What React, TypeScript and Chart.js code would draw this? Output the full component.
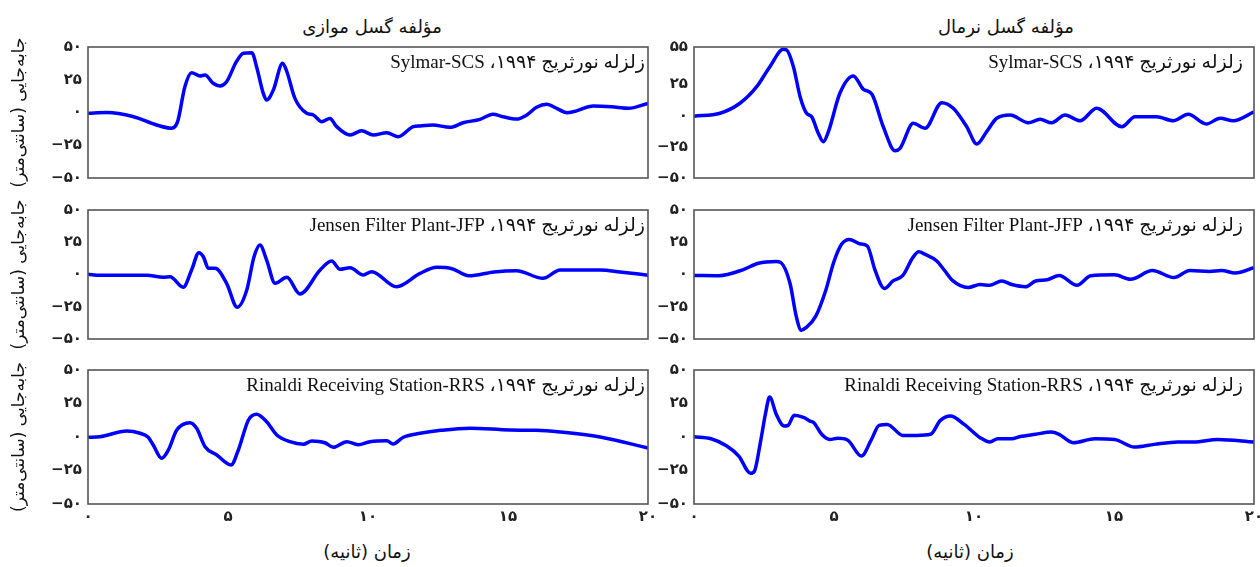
import React, { useEffect, useRef } from 'react';
import { Chart, registerables } from 'chart.js';
Chart.register(...registerables);

const xTicks = [0, 5, 10, 15, 20];
const yTicks = [-50, -25, 0, 25, 50];
const yTicksTopRight = [-50, -25, 0, 25, 55];

const columnTitles = ['مؤلفه گسل موازی', 'مؤلفه گسل نرمال'];
const stationLabels = [
  'زلزله نورثریج ۱۹۹۴، Sylmar-SCS',
  'زلزله نورثریج ۱۹۹۴، Jensen Filter Plant-JFP',
  'زلزله نورثریج ۱۹۹۴، Rinaldi Receiving Station-RRS',
];
const yTitle = 'جابه‌جایی (سانتی‌متر)';
const xTitle = 'زمان (ثانیه)';

// Sylmar-SCS, fault-parallel
const sylmarParT = [0, 0.67, 1.6, 2.45, 2.99, 3.2, 3.46, 3.7, 4.0, 4.18, 4.47, 4.71, 4.95, 5.3, 5.55, 5.85, 6.02, 6.26, 6.38, 6.62, 6.95, 7.1, 7.39, 7.81, 8.05, 8.35, 8.64, 8.88, 9.36, 9.77, 10.19, 10.67, 11.08, 11.62, 11.86, 12.3, 12.93, 13.4, 14.0, 14.46, 14.82, 15.31, 15.67, 16.02, 16.38, 16.74, 17.1, 17.33, 18.05, 18.7, 19.3, 20];
const sylmarParD = [-0.6, 0, -3, -9.5, -12, -7, 19.7, 30.4, 27.9, 28.6, 22.3, 20.2, 23.5, 38.8, 45.2, 45.7, 35, 14.6, 9.5, 17.2, 37.6, 31.3, 10.8, -0.6, -1.9, -7, -4.5, -10.8, -17.2, -13.9, -17.2, -15.4, -18.5, -10.8, -10.3, -9.5, -11.3, -7.8, -5.2, -1.4, -3.2, -5, -1.9, 4, 6.3, 3.2, -0.1, 0.6, 5, 4.4, 3.2, 7];

// Sylmar-SCS, fault-normal
const sylmarNorT = [0, 0.93, 1.64, 2.24, 2.71, 3.19, 3.31, 3.55, 3.79, 4.02, 4.2, 4.44, 4.62, 4.8, 5.21, 5.69, 6.05, 6.35, 6.76, 7.18, 7.36, 7.83, 8.25, 8.85, 9.26, 9.74, 10.1, 10.45, 10.81, 11.29, 11.94, 12.36, 12.77, 13.25, 13.79, 14.38, 15.28, 15.75, 16.52, 17.12, 17.65, 18.3, 18.79, 19.26, 20];
const sylmarNorD = [-0.5, 1.9, 9.9, 23.2, 39.2, 53.1, 52.6, 39.2, 15.2, 1.9, -0.8, -14.2, -20.9, -12.9, 17.9, 31.8, 21.1, 17.3, -8.9, -28.1, -26.2, -6.2, -10.2, 10.4, 5.9, -8.9, -22.7, -12.9, -2.1, 0.5, -5.7, -3, -5.7, 0.5, -4.1, 5.9, -8.9, -0.9, -0.9, -4.1, 1, -6.7, -2.1, -4.1, 3.1];

// Jensen Filter Plant-JFP, fault-parallel
const jensenParT = [0, 0.43, 2.1, 2.69, 2.93, 3.4, 3.7, 3.96, 4.12, 4.3, 4.54, 4.95, 5.33, 5.67, 5.93, 6.14, 6.38, 6.68, 7.1, 7.57, 8.29, 8.7, 9.0, 9.36, 9.83, 10.13, 11.02, 11.86, 12.46, 13.0, 13.6, 14.5, 15.3, 16.25, 16.86, 18.3, 19.0, 20];
const jensenParD = [0.2, -0.6, -0.6, -2.2, -1.7, -9.9, 3.5, 16.9, 13.8, 4.8, 4.8, -6.8, -25.4, -12, 13.8, 22.9, 11.2, -6.8, -2.2, -15.1, 3.5, 10.5, 4, 5.3, -0.4, 2.2, -9.5, 0.9, 5.6, 4.5, -1, 2, 3, -3, 3.5, 3.5, 2, -0.5];

// Jensen Filter Plant-JFP, fault-normal
const jensenNorT = [0, 0.89, 1.74, 2.3, 2.94, 3.08, 3.43, 3.65, 3.83, 4.0, 4.35, 4.71, 4.99, 5.27, 5.55, 5.91, 6.19, 6.47, 6.8, 7.11, 7.46, 7.82, 8.03, 8.24, 8.66, 8.95, 9.23, 9.79, 10.22, 10.57, 10.99, 11.35, 11.84, 12.2, 12.62, 13.04, 13.68, 14.17, 15.02, 15.59, 16.37, 17.14, 17.71, 18.41, 18.84, 19.33, 20];
const jensenNorD = [-0.7, -0.9, 3.6, 8.7, 10, 9.5, -7, -32.3, -43.2, -41.2, -32.3, -12, 9.5, 23.4, 27.2, 23.9, 22.1, 3.1, -10.8, -5, -0.7, 13.3, 17.6, 15.8, 10.7, 3.1, -4.5, -10, -7.8, -8.3, -5, -7.8, -9.5, -5, -4, -0.7, -8.3, -0.9, -0.2, -3.7, 3.1, -2.4, 3.1, 2.4, 3.1, 1.1, 5.2];

// Rinaldi Receiving Station-RRS, fault-parallel
const rinaldiParT = [0, 0.43, 1.38, 1.86, 2.15, 2.33, 2.63, 2.87, 3.17, 3.64, 3.88, 4.18, 4.6, 5.11, 5.37, 5.73, 6.02, 6.38, 6.74, 7.21, 7.69, 7.99, 8.46, 8.76, 9.24, 9.65, 10.07, 10.67, 10.9, 11.26, 11.86, 12.6, 13.64, 15.07, 16.0, 16.86, 18.29, 20];
const rinaldiParD = [-0.2, 0.2, 4.5, 2.8, -0.2, -6, -15.9, -9.7, 5.2, 10.7, 6.5, -7.2, -13.4, -20.9, -9.7, 12.7, 16.9, 11.4, 1.5, -3.5, -5.4, -3, -4.3, -7.7, -3.5, -5.8, -3.5, -2.8, -5.2, -0.2, 2.8, 5, 6.6, 5.2, 5, 3.7, 0, -8.2];

// Rinaldi Receiving Station-RRS, fault-normal
const rinaldiNorT = [0, 0.61, 1.17, 1.6, 2.02, 2.16, 2.37, 2.56, 2.7, 2.94, 3.22, 3.36, 3.58, 3.93, 4.14, 4.28, 4.56, 4.85, 5.13, 5.48, 5.98, 6.33, 6.61, 6.9, 7.46, 7.96, 8.45, 8.8, 9.16, 9.65, 10.22, 10.57, 10.85, 11.35, 11.63, 12.2, 12.76, 13.04, 13.54, 14.32, 15.02, 15.73, 16.44, 17.28, 17.85, 18.7, 20];
const rinaldiNorD = [0.2, -1.3, -6.7, -14.2, -27.1, -25.4, -4.2, 18.2, 29.8, 16.9, 8.2, 8.7, 16.2, 14.4, 11.9, 10.7, 2, -1.8, -1, -2.2, -14.2, -2.2, 8.7, 9.4, 1.2, 1.2, 2, 12.4, 15.7, 9.4, -0.5, -3.7, -1.3, -1.3, 0.2, 2, 3.7, 2, -4.2, -1.3, -1.8, -7.5, -5.5, -3.7, -3.7, -1.8, -3.7];

const faDigits = '۰۱۲۳۴۵۶۷۸۹';
function toFa(v: number): string {
  const s = String(Math.abs(v)).replace(/\d/g, (d) => faDigits[Number(d)]);
  return v < 0 ? '−' + s : s;
}

const rowBox = [
  { top: 47, bottom: 178 },
  { top: 210, bottom: 339 },
  { top: 370, bottom: 504 },
];
const colBox = [
  { canvasLeft: 0, canvasWidth: 656, plotLeft: 88, plotRight: 648, labelGap: 3 },
  { canvasLeft: 650, canvasWidth: 610, plotLeft: 694, plotRight: 1254, labelGap: 11 },
];

type PanelProps = {
  row: number;
  col: number;
  times: number[];
  values: number[];
  ticks: number[];
  label: string;
};

function Panel({ row, col, times, values, ticks, label }: PanelProps) {
  const ref = useRef<HTMLCanvasElement | null>(null);
  const r = rowBox[row];
  const c = colBox[col];
  const padTop = 15;
  const bottomRow = row === 2;
  const padBottom = bottomRow ? 5 : 15;
  const xAxisH = bottomRow ? 30 : 0;
  const height = r.bottom - r.top + padTop + padBottom + xAxisH;
  const width = c.canvasWidth;
  const yAxisW = c.plotLeft - c.canvasLeft;
  const padRight = c.canvasLeft + c.canvasWidth - c.plotRight;

  useEffect(() => {
    if (!ref.current) return;
    const showYTitle = col === 0;
    const decor = {
      id: 'decor',
      afterDatasetsDraw(chart: any) {
        const { ctx, chartArea: a } = chart;
        ctx.save();
        ctx.strokeStyle = '#555555';
        ctx.lineWidth = 1.6;
        ctx.strokeRect(a.left, a.top, a.right - a.left, a.bottom - a.top);
        ctx.fillStyle = '#111111';
        ctx.font = "19px 'Liberation Serif', 'DejaVu Sans', serif";
        ctx.direction = 'rtl';
        ctx.textAlign = 'right';
        ctx.textBaseline = 'alphabetic';
        ctx.fillText(label, a.right - c.labelGap, a.top + 21);
        if (showYTitle) {
          ctx.translate(20, (a.top + a.bottom) / 2);
          ctx.rotate(-Math.PI / 2);
          ctx.textAlign = 'center';
          ctx.textBaseline = 'middle';
          ctx.font = "17px 'DejaVu Sans', sans-serif";
          ctx.fillText(yTitle, 0, 0);
        }
        ctx.restore();
      },
    };
    const chart = new Chart(ref.current, {
      type: 'line',
      data: {
        datasets: [
          {
            data: times.map((t, i) => ({ x: t, y: values[i] })),
            borderColor: '#0000ff',
            borderWidth: 3.5,
            pointRadius: 0,
            fill: false,
            cubicInterpolationMode: 'monotone',
          },
        ],
      },
      options: {
        animation: false,
        responsive: false,
        devicePixelRatio: 1,
        layout: { padding: { top: padTop, bottom: padBottom, left: 0, right: padRight } },
        plugins: { legend: { display: false }, tooltip: { enabled: false }, title: { display: false } },
        scales: {
          x: {
            type: 'linear',
            min: 0,
            max: 20,
            display: bottomRow,
            grid: { display: false, drawTicks: false },
            border: { display: false },
            afterBuildTicks: (s: any) => {
              s.ticks = xTicks.map((v) => ({ value: v }));
            },
            afterFit: (s: any) => {
              s.height = xAxisH;
              s.paddingLeft = 0;
              s.paddingRight = 0;
            },
            ticks: {
              padding: 4,
              maxRotation: 0,
              autoSkip: false,
              color: '#222222',
              font: { family: "'DejaVu Sans', sans-serif", size: 15, weight: 'bold' },
              callback: (v: any) => toFa(Number(v)),
            },
          },
          y: {
            type: 'linear',
            min: ticks[0],
            max: ticks[ticks.length - 1],
            grid: { display: false, drawTicks: false },
            border: { display: false },
            afterBuildTicks: (s: any) => {
              s.ticks = ticks.map((v) => ({ value: v }));
            },
            afterFit: (s: any) => {
              s.width = yAxisW;
              s.paddingTop = 0;
              s.paddingBottom = 0;
            },
            ticks: {
              padding: 6,
              autoSkip: false,
              color: '#222222',
              font: { family: "'DejaVu Sans', sans-serif", size: 15, weight: 'bold' },
              callback: (v: any) => toFa(Number(v)),
            },
          },
        },
      },
      plugins: [decor],
    } as any);
    return () => chart.destroy();
  }, []);

  return (
    <canvas
      ref={ref}
      width={width}
      height={height}
      style={{ position: 'absolute', left: c.canvasLeft, top: r.top - padTop, width, height, display: 'block' }}
    />
  );
}

const textStyle: React.CSSProperties = {
  position: 'absolute',
  transform: 'translate(-50%, -50%)',
  whiteSpace: 'nowrap',
  fontFamily: "'DejaVu Sans', sans-serif",
  color: '#111',
  direction: 'rtl',
};

export default function App() {
  return (
    <div style={{ position: 'absolute', left: 0, top: 0, width: 1260, height: 567, background: '#fff', overflow: 'hidden' }}>
      <div style={{ ...textStyle, left: 372, top: 26, fontSize: 18 }}>{columnTitles[0]}</div>
      <div style={{ ...textStyle, left: 1006, top: 26, fontSize: 18 }}>{columnTitles[1]}</div>
      <Panel row={0} col={0} times={sylmarParT} values={sylmarParD} ticks={yTicks} label={stationLabels[0]} />
      <Panel row={0} col={1} times={sylmarNorT} values={sylmarNorD} ticks={yTicksTopRight} label={stationLabels[0]} />
      <Panel row={1} col={0} times={jensenParT} values={jensenParD} ticks={yTicks} label={stationLabels[1]} />
      <Panel row={1} col={1} times={jensenNorT} values={jensenNorD} ticks={yTicks} label={stationLabels[1]} />
      <Panel row={2} col={0} times={rinaldiParT} values={rinaldiParD} ticks={yTicks} label={stationLabels[2]} />
      <Panel row={2} col={1} times={rinaldiNorT} values={rinaldiNorD} ticks={yTicks} label={stationLabels[2]} />
      <div style={{ ...textStyle, left: 367, top: 551, fontSize: 18 }}>{xTitle}</div>
      <div style={{ ...textStyle, left: 970, top: 551, fontSize: 18 }}>{xTitle}</div>
    </div>
  );
}
